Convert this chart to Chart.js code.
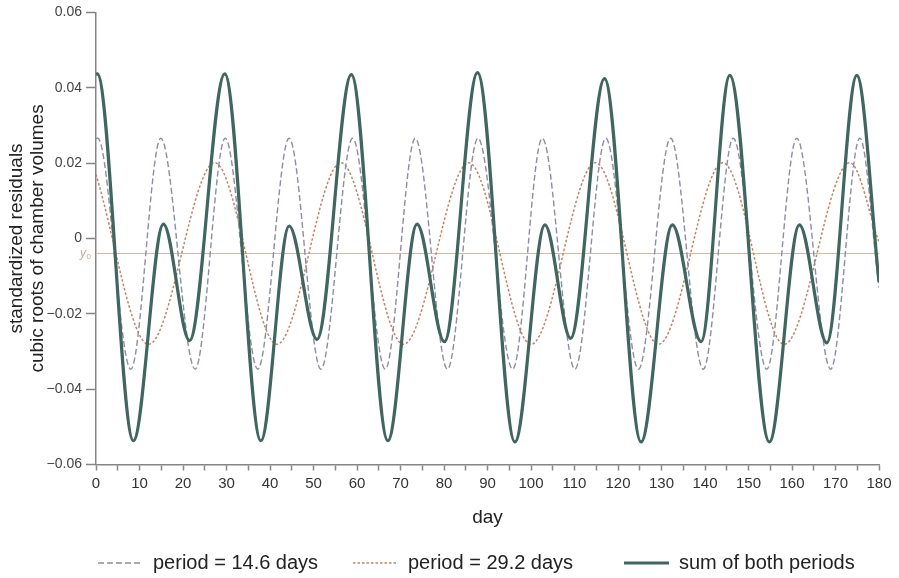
<!DOCTYPE html>
<html>
<head>
<meta charset="utf-8">
<script src="https://cdn.jsdelivr.net/npm/chart.js@4.4.1/dist/chart.umd.min.js"></script>
<style>
  html, body { margin: 0; padding: 0; background: #fff; }
  canvas { display: block; }
</style>
</head>
<body>
<canvas id="residualChart" width="899" height="578"></canvas>
<script>
// turning points (day, value); lines are smoothed between them
const p146Days = [0, 0.4, 8.0, 14.9, 22.8, 29.7, 37.2, 44.4, 51.7, 59.0, 66.5, 73.4, 80.8, 87.8,
  95.8, 102.6, 110.1, 117.2, 124.7, 132.1, 139.6, 146.5, 154.2, 161.1, 168.9, 175.6, 180];
const p146Vals = [0.0265, 0.0266, -0.0347, 0.0266, -0.0347, 0.0266, -0.0347, 0.0266, -0.0347, 0.0266,
  -0.0347, 0.0266, -0.0347, 0.0266, -0.0347, 0.0266, -0.0347, 0.0266, -0.0347, 0.0266, -0.0347,
  0.0266, -0.0347, 0.0266, -0.0347, 0.0266, -0.013];

const p292Days = [0, 12.1, 27.3, 41.6, 56.3, 70.7, 85.7, 100.0, 114.8, 129.3, 144.1, 158.2, 173.3, 180];
const p292Vals = [0.017, -0.0281, 0.0201, -0.0281, 0.0201, -0.0281, 0.0201, -0.0281, 0.0201, -0.0281,
  0.0201, -0.0281, 0.0201, -0.001];

const sumDays = [0, 0.3, 8.6, 15.5, 21.5, 29.6, 37.9, 44.4, 50.8, 58.7, 67.1, 73.8, 80.1, 87.7,
  96.3, 103.2, 109.1, 116.9, 125.3, 132.5, 139.1, 145.7, 154.8, 161.7, 168.0, 174.9, 180];
const sumVals = [0.0435, 0.0437, -0.0537, 0.0038, -0.0271, 0.0437, -0.0537, 0.0033, -0.0268, 0.0435,
  -0.0537, 0.0038, -0.0274, 0.0440, -0.0540, 0.0036, -0.0265, 0.0424, -0.0540, 0.0036, -0.0274,
  0.0433, -0.0540, 0.0036, -0.0277, 0.0433, -0.0115];

// y0 reference level
const baseDays = [0, 180];
const baseVals = [-0.004, -0.004];

const seriesLabels = ['period = 14.6 days', 'period = 29.2 days', 'sum of both periods'];

const axisGray = '#858585';
const shortColor = '#8c8ca2';
const longColor = '#c9805f';
const sumColor = '#3f665f';
const baseColor = '#d8b89f';
const fontFamily = "'Liberation Sans', Arial, sans-serif";

const toPoints = (days, vals) => days.map((d, i) => ({ x: d, y: vals[i] }));

// legend and the y0 tag are drawn by hand so they sit where the figure has them
const extrasPlugin = {
  id: 'extras',
  afterDraw(chart) {
    const ctx = chart.ctx;
    const y = chart.scales.y;

    ctx.save();
    const yPix = y.getPixelForValue(baseVals[0]);
    ctx.fillStyle = '#c9a98f';
    ctx.textBaseline = 'alphabetic';
    ctx.textAlign = 'left';
    ctx.font = 'italic 12px ' + fontFamily;
    ctx.fillText('y', 80, yPix + 3);
    ctx.font = '8px ' + fontFamily;
    ctx.fillText('0', 86.5, yPix + 5);
    ctx.restore();

    const items = [
      { ds: 1, x: 98 },
      { ds: 2, x: 353 },
      { ds: 0, x: 624 }
    ];
    const ly = 563;
    ctx.save();
    ctx.font = '20px ' + fontFamily;
    ctx.textBaseline = 'middle';
    ctx.textAlign = 'left';
    items.forEach(it => {
      const ds = chart.data.datasets[it.ds];
      ctx.beginPath();
      ctx.strokeStyle = ds.borderColor;
      ctx.lineWidth = ds.borderWidth;
      ctx.setLineDash(ds.borderDash || []);
      ctx.moveTo(it.x, ly);
      ctx.lineTo(it.x + 45, ly);
      ctx.stroke();
      ctx.setLineDash([]);
      ctx.fillStyle = '#222';
      ctx.fillText(ds.label, it.x + 55, ly);
    });
    ctx.restore();
  }
};

new Chart(document.getElementById('residualChart'), {
  type: 'line',
  data: {
    datasets: [
      {
        label: seriesLabels[2],
        data: toPoints(sumDays, sumVals),
        borderColor: sumColor,
        borderWidth: 3.2,
        order: 0
      },
      {
        label: seriesLabels[0],
        data: toPoints(p146Days, p146Vals),
        borderColor: shortColor,
        borderWidth: 1.4,
        borderDash: [6, 3],
        order: 1
      },
      {
        label: seriesLabels[1],
        data: toPoints(p292Days, p292Vals),
        borderColor: longColor,
        borderWidth: 1.5,
        borderDash: [2.5, 2],
        order: 2
      },
      {
        label: 'y0',
        data: toPoints(baseDays, baseVals),
        borderColor: baseColor,
        borderWidth: 1,
        order: 3
      }
    ]
  },
  options: {
    responsive: false,
    animation: false,
    devicePixelRatio: 1,
    layout: { padding: { top: 11, right: 20, bottom: 48.5, left: 0 } },
    elements: {
      point: { radius: 0 },
      line: { cubicInterpolationMode: 'monotone', fill: false }
    },
    plugins: {
      legend: { display: false },
      tooltip: { enabled: false }
    },
    scales: {
      x: {
        type: 'linear',
        min: 0,
        max: 180,
        border: { display: true, color: axisGray, width: 1.5 },
        grid: { display: true, drawOnChartArea: false, drawTicks: true, tickLength: 6, tickColor: axisGray, tickWidth: 1.5 },
        ticks: {
          stepSize: 5,
          autoSkip: false,
          maxRotation: 0,
          padding: 4,
          color: '#333',
          font: { family: fontFamily, size: 15 },
          callback: v => (v % 10 === 0 ? String(v) : '')
        },
        title: { display: true, text: 'day', color: '#222', font: { family: fontFamily, size: 19 }, padding: 0 },
        afterFit: s => { s.height = 65; }
      },
      y: {
        min: -0.06,
        max: 0.06,
        border: { display: true, color: axisGray, width: 1.5 },
        grid: { display: true, drawOnChartArea: false, drawTicks: true, tickLength: 10, tickColor: axisGray, tickWidth: 1.5 },
        ticks: {
          stepSize: 0.02,
          padding: 4,
          color: '#444',
          font: { family: fontFamily, size: 14 },
          callback: v => {
            const r = Math.round(v * 100) / 100;
            if (r === 0) return '0';
            return (r < 0 ? '\u2212' : '') + Math.abs(r).toFixed(2);
          }
        },
        title: {
          display: true,
          text: ['standardized residuals', 'cubic roots of chamber volumes'],
          color: '#222',
          font: { family: fontFamily, size: 19, lineHeight: 1.1 },
          padding: { top: 6, bottom: 0 }
        },
        afterFit: s => { s.width = 96; }
      }
    }
  },
  plugins: [extrasPlugin]
});
</script>
</body>
</html>
